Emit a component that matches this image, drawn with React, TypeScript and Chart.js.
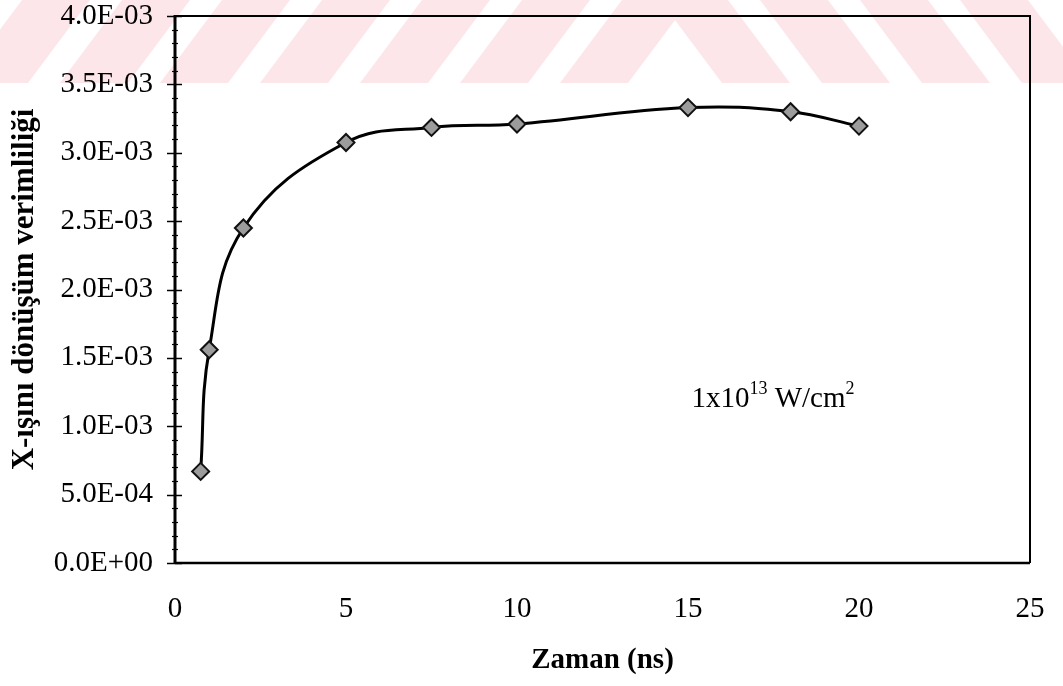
import React, { useEffect, useRef } from 'react';
import { Chart, registerables } from 'chart.js';

Chart.register(...registerables);

// ---- data ----
const timeNs: number[] = [0.75, 1, 2, 5, 7.5, 10, 15, 18, 20];
const efficiency: number[] = [6.7e-4, 1.56e-3, 2.45e-3, 3.075e-3, 3.185e-3, 3.21e-3, 3.33e-3, 3.3e-3, 3.195e-3];
const xTickValues: number[] = [0, 5, 10, 15, 20, 25];
const yMajorStep = 5e-4;
const yMinorStep = 1e-4;
const yMax = 4e-3;
const xMax = 25;
const xTitle = 'Zaman (ns)';
const yTitle = 'X-ışını dönüşüm verimliliği';
const annotationBase = '1x10';
const annotationExp1 = '13';
const annotationMid = ' W/cm';
const annotationExp2 = '2';
const annotationX = 15.1;
const annotationY = 1.14e-3;

const SERIF = '"Liberation Serif", "Times New Roman", serif';

function fmtSci(v: number): string {
  const [m, e] = v.toExponential(1).split('e');
  const sign = e.startsWith('-') ? '-' : '+';
  const digits = e.replace('-', '').replace('+', '').padStart(2, '0');
  return `${m}E${sign}${digits}`;
}

const decorPlugin = {
  id: 'decor',
  beforeDraw(chart: any) {
    const ctx = chart.ctx;
    ctx.save();
    ctx.fillStyle = '#ffffff';
    ctx.fillRect(0, 0, chart.width, chart.height);
    // pale watermark stripes at the top
    ctx.fillStyle = '#fce6ea';
    const h = 83;
    const w = 68;
    const shift = 62;
    for (let i = 0; i < 7; i++) {
      const bx = -40 + i * 100;
      ctx.beginPath();
      ctx.moveTo(bx, h);
      ctx.lineTo(bx + w, h);
      ctx.lineTo(bx + w + shift, 0);
      ctx.lineTo(bx + shift, 0);
      ctx.closePath();
      ctx.fill();
    }
    for (let i = 0; i < 4; i++) {
      const bx = 660 + i * 100;
      ctx.beginPath();
      ctx.moveTo(bx, 0);
      ctx.lineTo(bx + w, 0);
      ctx.lineTo(bx + w + shift, h);
      ctx.lineTo(bx + shift, h);
      ctx.closePath();
      ctx.fill();
    }
    ctx.restore();
  },
  beforeDatasetsDraw(chart: any) {
    const ctx = chart.ctx;
    const { left, right, top, bottom } = chart.chartArea;
    const yScale = chart.scales.y;
    ctx.save();
    ctx.strokeStyle = '#000';
    // frame
    ctx.lineWidth = 2;
    ctx.beginPath();
    ctx.moveTo(left, top);
    ctx.lineTo(right, top);
    ctx.lineTo(right, bottom);
    ctx.stroke();
    ctx.lineWidth = 2.5;
    ctx.beginPath();
    ctx.moveTo(left, bottom);
    ctx.lineTo(right, bottom);
    ctx.stroke();
    ctx.lineWidth = 3;
    ctx.beginPath();
    ctx.moveTo(left, top - 1);
    ctx.lineTo(left, bottom + 1);
    ctx.stroke();
    // y ticks (major + minor)
    const n = Math.round(yMax / yMinorStep);
    const perMajor = Math.round(yMajorStep / yMinorStep);
    for (let i = 0; i <= n; i++) {
      const py = Math.round(yScale.getPixelForValue(i * yMinorStep)) + 0.5;
      const major = i % perMajor === 0;
      ctx.lineWidth = major ? 1.5 : 1.2;
      ctx.beginPath();
      ctx.moveTo(left - (major ? 8 : 3), py);
      ctx.lineTo(left + (major ? 7 : 3), py);
      ctx.stroke();
    }
    ctx.restore();
  },
  afterDraw(chart: any) {
    const ctx = chart.ctx;
    const x0 = chart.scales.x.getPixelForValue(annotationX);
    const y0 = chart.scales.y.getPixelForValue(annotationY);
    ctx.save();
    ctx.fillStyle = '#000';
    ctx.textBaseline = 'alphabetic';
    ctx.textAlign = 'left';
    let x = x0;
    ctx.font = `29px ${SERIF}`;
    ctx.fillText(annotationBase, x, y0);
    x += ctx.measureText(annotationBase).width;
    ctx.font = `18px ${SERIF}`;
    ctx.fillText(annotationExp1, x, y0 - 13);
    x += ctx.measureText(annotationExp1).width;
    ctx.font = `29px ${SERIF}`;
    ctx.fillText(annotationMid, x, y0);
    x += ctx.measureText(annotationMid).width;
    ctx.font = `18px ${SERIF}`;
    ctx.fillText(annotationExp2, x, y0 - 13);
    ctx.restore();
  },
};

export default function App() {
  const canvasRef = useRef<HTMLCanvasElement | null>(null);

  useEffect(() => {
    if (!canvasRef.current) return;
    const chart = new Chart(canvasRef.current, {
      type: 'line',
      data: {
        datasets: [
          {
            data: timeNs.map((t, i) => ({ x: t, y: efficiency[i] })),
            borderColor: '#000',
            borderWidth: 3,
            tension: 0.4,
            pointStyle: 'rectRot',
            pointRadius: 8.5,
            pointBackgroundColor: '#9c9c9c',
            pointBorderColor: '#111',
            pointBorderWidth: 2,
            fill: false,
          },
        ],
      },
      options: {
        responsive: false,
        animation: false,
        devicePixelRatio: 1,
        layout: { padding: { left: 0, top: 16, right: 33, bottom: 0 } },
        plugins: {
          legend: { display: false },
          tooltip: { enabled: false },
        },
        scales: {
          x: {
            type: 'linear',
            min: 0,
            max: xMax,
            grid: { display: false, drawTicks: false },
            border: { display: false },
            afterBuildTicks: (scale: any) => {
              scale.ticks = xTickValues.map((v) => ({ value: v }));
            },
            ticks: {
              color: '#000',
              font: { family: SERIF, size: 29 },
              padding: 29,
              maxRotation: 0,
              autoSkip: false,
              callback: (v: any) => String(v),
            },
            title: {
              display: true,
              text: xTitle,
              color: '#000',
              font: { family: SERIF, size: 29, weight: 'bold' },
              padding: { top: 0, bottom: 8 },
            },
            afterFit: (scale: any) => {
              scale.height = 123;
              scale.paddingLeft = 0;
              scale.paddingRight = 0;
            },
          },
          y: {
            type: 'linear',
            min: 0,
            max: yMax,
            grid: { display: false, drawTicks: false },
            border: { display: false },
            ticks: {
              color: '#000',
              stepSize: yMajorStep,
              font: { family: SERIF, size: 29 },
              padding: 22,
              autoSkip: false,
              callback: (v: any) => fmtSci(Number(v)),
            },
            title: {
              display: true,
              text: yTitle,
              color: '#000',
              font: { family: SERIF, size: 31, weight: 'bold' },
              padding: { top: 6, bottom: 0 },
            },
            afterFit: (scale: any) => {
              scale.width = 175;
              scale.paddingTop = 0;
              scale.paddingBottom = 0;
            },
          },
        },
      },
      plugins: [decorPlugin],
    } as any);
    return () => chart.destroy();
  }, []);

  return (
    <div style={{ position: 'absolute', left: 0, top: 0, width: 1063, height: 686, background: '#fff' }}>
      <canvas ref={canvasRef} width={1063} height={686} />
    </div>
  );
}
